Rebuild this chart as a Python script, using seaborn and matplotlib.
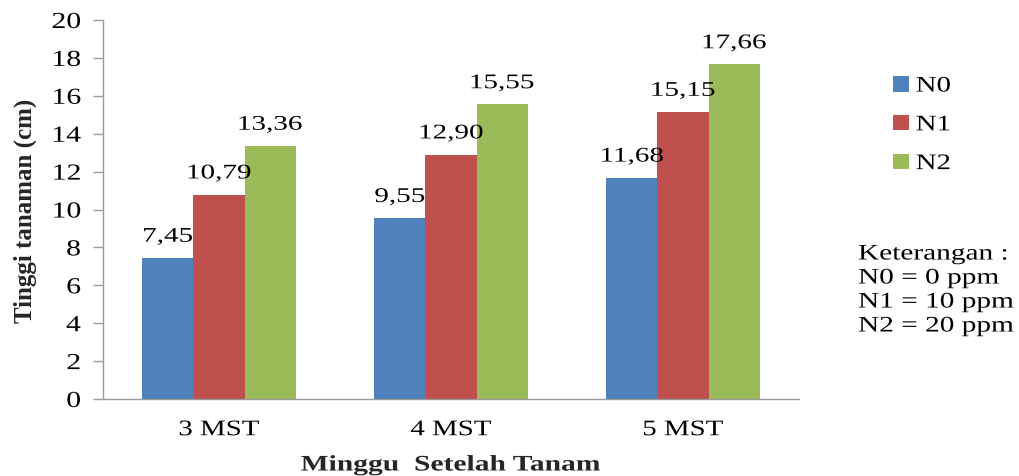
import matplotlib
matplotlib.use("Agg")
import numpy as np
import matplotlib.pyplot as plt
import seaborn as sns
import pandas as pd
from matplotlib.patches import Patch
from matplotlib.patheffects import AbstractPathEffect
from matplotlib.transforms import Affine2D

categories = ["3 MST", "4 MST", "5 MST"]
series_names = ["N0", "N1", "N2"]
n0_values = [7.45, 9.55, 11.68]
n1_values = [10.79, 12.90, 15.15]
n2_values = [13.36, 15.55, 17.66]
colors = ["#4F81BD", "#C0504D", "#9BBB59"]
y_ticks = [0, 2, 4, 6, 8, 10, 12, 14, 16, 18, 20]
note_lines = ["Keterangan :", "N0 = 0 ppm", "N1 = 10 ppm", "N2 = 20 ppm"]


class StretchX(AbstractPathEffect):
    """Widen glyphs horizontally (the reference text is horizontally stretched)."""

    def __init__(self, sx=1.3, anchor="center"):
        super().__init__()
        self.sx = sx
        self.anchor = anchor

    def draw_path(self, renderer, gc, tpath, affine, rgbFace=None):
        c = 0.0
        if len(tpath.vertices):
            ext = tpath.get_extents()
            if np.isfinite(ext.x0) and np.isfinite(ext.x1):
                if self.anchor == "center":
                    c = (ext.x0 + ext.x1) / 2
                elif self.anchor == "right":
                    c = ext.x1
                else:
                    c = 0.0
        pre = Affine2D().translate(-c, 0).scale(self.sx, 1).translate(c, 0)
        renderer.draw_path(gc, tpath, pre + affine, rgbFace)


rows = []
for name, vals in zip(series_names, [n0_values, n1_values, n2_values]):
    for c, v in zip(categories, vals):
        rows.append({"Minggu": c, "Seri": name, "Tinggi": v})
df = pd.DataFrame(rows)

sns.set_style("white")
plt.rcParams["font.family"] = ["Liberation Serif", "DejaVu Serif"]
plt.rcParams["text.color"] = "#000000"
plt.rcParams["xtick.labelcolor"] = "#000000"
plt.rcParams["ytick.labelcolor"] = "#000000"

fig = plt.figure(figsize=(10.19, 4.77), dpi=100)
ax = fig.add_axes([103 / 1019, 1 - 400 / 477, (799 - 103) / 1019, (400 - 21) / 477])

sns.barplot(data=df, x="Minggu", y="Tinggi", hue="Seri", order=categories,
            hue_order=series_names, palette=colors, width=0.66, saturation=1,
            edgecolor="none", linewidth=0, ax=ax, legend=False, errorbar=None)

for cont, vals in zip(ax.containers, [n0_values, n1_values, n2_values]):
    anns = ax.bar_label(cont, labels=[f"{v:.2f}".replace(".", ",") for v in vals],
                        padding=8, fontsize=15, color="#000000")
    for a in anns:
        a.set_path_effects([StretchX(1.4, "center")])

ax.set_xlim(-0.5, 2.5)
ax.set_ylim(0, 20)
ax.set_yticks(y_ticks)
ax.set_yticklabels([str(t) for t in y_ticks], fontsize=16.5)
ax.set_xticks([0, 1, 2])
ax.set_xticklabels(categories, fontsize=16)
ax.tick_params(axis="x", which="major", length=0, pad=16)
ax.set_xticks([-0.5, 0.5, 1.5, 2.5], minor=True)
ax.tick_params(axis="x", which="minor", length=7, color="#999999", width=1)
ax.tick_params(axis="y", length=7, color="#999999", width=1, pad=9, left=True)
for lbl in ax.get_xticklabels():
    lbl.set_path_effects([StretchX(1.3, "center")])
for lbl in ax.get_yticklabels():
    lbl.set_path_effects([StretchX(1.3, "right")])

for s in ["top", "right"]:
    ax.spines[s].set_visible(False)
for s in ["left", "bottom"]:
    ax.spines[s].set_color("#999999")
    ax.spines[s].set_linewidth(1)

ax.set_xlabel("Minggu  Setelah Tanam", fontsize=16, fontweight="bold", labelpad=11)
ax.xaxis.label.set_path_effects([StretchX(1.33, "center")])
ax.set_ylabel("Tinggi tanaman (cm)", fontsize=18, fontweight="bold", labelpad=15)

handles = [Patch(facecolor=c, edgecolor="none", label=n) for c, n in zip(colors, series_names)]
leg = fig.legend(handles=handles, loc="upper left", bbox_to_anchor=(893 / 1019, 1 - 77 / 477),
                 frameon=False, fontsize=16, handlelength=0.7, handleheight=0.7,
                 handletextpad=0.32, labelspacing=0.82, borderaxespad=0, borderpad=0)
for t in leg.get_texts():
    t.set_path_effects([StretchX(1.3, "left")])

for i, line in enumerate(note_lines):
    t = fig.text(858 / 1019, 1 - (256 + 24 * i) / 477, line, fontsize=16,
                 ha="left", va="center")
    t.set_path_effects([StretchX(1.32, "left")])

fig.savefig("out.png", dpi=100)
